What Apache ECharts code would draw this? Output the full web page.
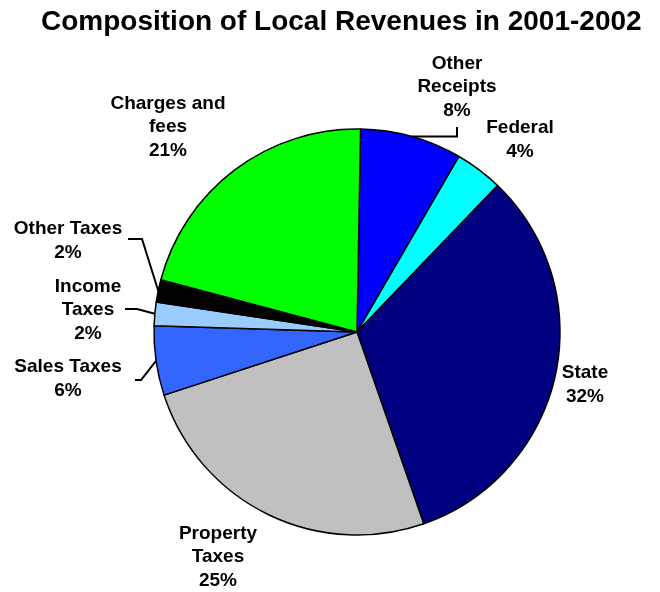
<!DOCTYPE html>
<html>
<head>
<meta charset="utf-8">
<script src="https://cdn.jsdelivr.net/npm/echarts@6/dist/echarts.min.js"></script>
<style>
  html, body { margin: 0; padding: 0; background: #fff; }
  #chart { width: 660px; height: 592px; }
</style>
</head>
<body>
<div id="chart"></div>
<script>
// Revenue sources, clockwise from 12 o'clock
const categories = [
  'Other\nReceipts', 'Federal', 'State', 'Property\nTaxes',
  'Sales Taxes', 'Income\nTaxes', 'Other Taxes', 'Charges and\nfees'
];
// Share of local revenue (percent)
const shares = [8.1, 3.8, 32.49, 25.3, 5.52, 1.88, 1.78, 21.13];
const sliceColors = [
  '#0000FF', '#00FFFF', '#000080', '#C0C0C0',
  '#3366FF', '#99CCFF', '#000000', '#00FF00'
];

const total = shares.reduce((a, b) => a + b, 0);

// Label anchors (centre of each text block) and leader-line elbows
const labelPos = [
  [457, 87], [520, 140], [585, 385], [218, 557],
  [68, 379], [88, 310], [68, 241], [168, 127]
];
const leader = {
  0: [[457, null], [457, 127]],
  4: [[141, 380], [135, 380]],
  5: [[137, 309], [125, 309]],
  6: [[142, 239], [128, 239]]
};

const chart = echarts.init(document.getElementById('chart'), null, { renderer: 'canvas' });

const labelFont = {
  fontFamily: 'Liberation Sans, Arial, sans-serif',
  fontWeight: 'bold',
  fontSize: 19,
  lineHeight: 23.5,
  color: '#000'
};

chart.setOption({
  animation: false,
  backgroundColor: '#fff',
  title: {
    text: 'Composition of Local Revenues in 2001-2002',
    left: 41,
    top: 8,
    padding: 0,
    textStyle: {
      fontFamily: 'Liberation Sans, Arial, sans-serif',
      fontWeight: 'bold',
      fontSize: 28,
      color: '#000'
    }
  },
  series: [{
    type: 'pie',
    center: [357, 332],
    radius: 203,
    startAngle: 89,
    clockwise: true,
    avoidLabelOverlap: false,
    itemStyle: { borderColor: '#000', borderWidth: 1.5 },
    emphasis: { disabled: true },
    label: Object.assign({
      show: true,
      position: 'outside',
      align: 'center',
      formatter: p => p.name + '\n' + Math.round(p.value / total * 100) + '%'
    }, labelFont),
    labelLine: {
      show: true,
      length: 10,
      length2: 10,
      lineStyle: { color: '#000', width: 2 }
    },
    labelLayout: function (params) {
      const i = params.dataIndex;
      const out = {
        x: labelPos[i][0],
        y: labelPos[i][1],
        align: 'center',
        verticalAlign: 'middle'
      };
      if (leader[i] && params.labelLinePoints) {
        const p0 = params.labelLinePoints[0];
        const pts = [p0.slice()];
        leader[i].forEach(q => pts.push([q[0], q[1] == null ? p0[1] : q[1]]));
        out.labelLinePoints = pts;
      }
      return out;
    },
    data: categories.map((name, i) => ({
      name: name,
      value: shares[i],
      itemStyle: { color: sliceColors[i] },
      labelLine: { show: leader[i] != null }
    }))
  }]
});
</script>
</body>
</html>
